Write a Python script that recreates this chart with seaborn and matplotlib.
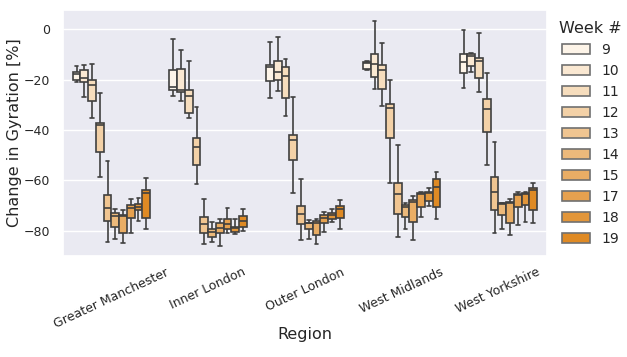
import numpy as np
import pandas as pd
import matplotlib
matplotlib.use("Agg")
import matplotlib.pyplot as plt
import seaborn as sns

regions = ["Greater Manchester", "Inner London", "Outer London", "West Midlands", "West Yorkshire"]
weeks = [9, 10, 11, 12, 13, 14, 15, 17, 18, 19]

# five-number summaries (whisker low, Q1, median, Q3, whisker high) per week
greater_manchester = [
    (-21.0, -20.3, -17.8, -16.8, -14.7),
    (-26.9, -20.9, -19.3, -16.0, -14.1),
    (-35.2, -28.4, -22.2, -20.0, -13.7),
    (-58.5, -48.6, -37.8, -37.2, -25.3),
    (-84.3, -76.2, -70.8, -65.7, -52.1),
    (-83.1, -78.3, -74.1, -73.1, -71.2),
    (-84.7, -80.7, -74.0, -73.6, -71.8),
    (-80.7, -74.8, -70.8, -69.6, -67.5),
    (-76.1, -71.9, -70.4, -69.2, -66.9),
    (-79.1, -74.8, -64.9, -63.6, -58.9),
]
inner_london = [
    (-26.6, -24.0, -22.9, -16.0, -3.8),
    (-28.3, -25.0, -24.0, -15.8, -8.1),
    (-35.2, -33.2, -26.3, -24.0, -12.7),
    (-61.6, -53.7, -46.8, -43.1, -30.8),
    (-85.1, -80.7, -77.4, -74.4, -67.2),
    (-84.3, -82.3, -80.5, -79.1, -76.5),
    (-86.0, -80.7, -79.0, -76.8, -75.4),
    (-80.7, -79.1, -77.4, -75.2, -70.8),
    (-81.1, -80.3, -79.0, -78.5, -75.2),
    (-80.1, -78.3, -76.1, -74.1, -71.2),
]
outer_london = [
    (-27.3, -20.4, -15.0, -14.3, -5.1),
    (-24.4, -20.0, -17.0, -12.7, -3.1),
    (-34.5, -27.3, -18.7, -15.1, -11.8),
    (-64.9, -51.7, -44.0, -41.8, -26.9),
    (-83.8, -77.5, -73.5, -70.2, -59.6),
    (-83.4, -79.1, -77.0, -76.8, -75.7),
    (-85.1, -81.5, -77.0, -76.2, -75.2),
    (-80.3, -76.8, -74.8, -73.9, -72.4),
    (-76.4, -75.4, -73.9, -73.1, -71.2),
    (-79.1, -74.8, -71.2, -70.2, -67.9),
]
west_midlands = [
    (-16.3, -15.6, -13.4, -12.8, -12.6),
    (-23.7, -18.9, -13.8, -9.8, 3.4),
    (-30.6, -23.7, -16.0, -14.3, -5.5),
    (-60.9, -43.1, -31.2, -29.8, -20.0),
    (-82.3, -73.2, -65.5, -60.9, -46.1),
    (-79.4, -74.4, -70.4, -69.8, -69.1),
    (-83.8, -76.4, -68.5, -67.8, -66.2),
    (-74.4, -70.4, -65.3, -64.9, -64.6),
    (-70.2, -68.2, -65.0, -64.6, -62.9),
    (-75.2, -70.4, -62.5, -59.3, -56.6),
]
west_yorkshire = [
    (-23.3, -17.3, -13.1, -9.8, -0.2),
    (-17.0, -14.5, -10.5, -9.8, -9.4),
    (-24.9, -19.3, -12.4, -11.2, -1.5),
    (-53.7, -40.7, -31.5, -27.6, -17.3),
    (-80.7, -71.8, -64.5, -58.5, -44.7),
    (-79.4, -73.7, -69.3, -69.1, -68.8),
    (-81.7, -76.8, -69.0, -68.6, -67.2),
    (-77.7, -70.4, -65.7, -65.3, -64.6),
    (-76.4, -69.8, -65.3, -64.9, -64.5),
    (-76.8, -71.8, -63.8, -62.9, -61.2),
]
summaries = [greater_manchester, inner_london, outer_london, west_midlands, west_yorkshire]

rows = []
for region, summ in zip(regions, summaries):
    for week, stats in zip(weeks, summ):
        for v in stats:
            rows.append({"Region": region, "Week #": week, "val": v})
df = pd.DataFrame(rows)

sns.set_theme(style="darkgrid")
fig = plt.figure(figsize=(6.27, 3.57), dpi=100)
ax = fig.add_axes([0.1005, 0.283, 0.7715, 0.689])

palette = sns.blend_palette(["#fdf4e8", "#df8a24"], n_colors=10)
sns.boxplot(data=df, x="Region", y="val", hue="Week #", order=regions,
            hue_order=weeks, palette=palette, saturation=1, whis=(0, 100), ax=ax,
            linewidth=1.2, width=0.8, linecolor="#404040")

ax.set_ylim(-90, 7.7)
ax.set_yticks([0, -20, -40, -60, -80])
ax.set_xlabel("Region", fontsize=11.5)
ax.set_ylabel("Change in Gyration [%]", fontsize=11.5)
ax.tick_params(axis="both", labelsize=9)
ax.tick_params(axis="x", pad=1)
plt.setp(ax.get_xticklabels(), rotation=25)
ax.yaxis.set_label_coords(-0.084, 0.5)
ax.xaxis.set_label_coords(0.5, -0.29)

leg = ax.legend(title="Week #", loc="upper left", bbox_to_anchor=(1.0, 1.005),
                frameon=False, fontsize=10, title_fontsize=11.5)
for h in leg.legend_handles:
    h.set_edgecolor("#707070")

fig.savefig("out.png", dpi=100)
